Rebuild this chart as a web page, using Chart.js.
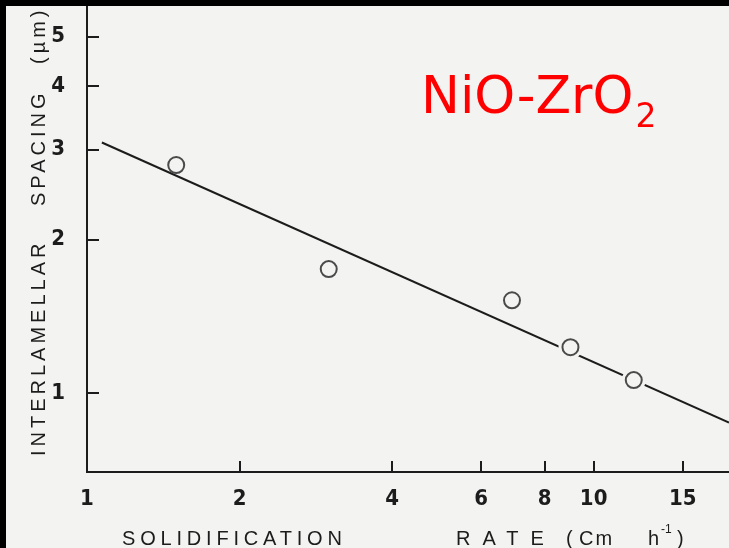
<!DOCTYPE html>
<html>
<head>
<meta charset="utf-8">
<script src="https://cdn.jsdelivr.net/npm/chart.js@4.4.1/dist/chart.umd.min.js"></script>
<style>
  html, body { margin: 0; padding: 0; background: #f3f3f1; }
  #wrap { position: relative; width: 729px; height: 548px; overflow: hidden; }
  canvas { display: block; }
</style>
</head>
<body>
<div id="wrap"><canvas id="spacingChart" width="729" height="548"></canvas></div>
<script>
// solidification rate (cm/h) vs interlamellar spacing (um)
const rates = [1.5, 3.0, 6.9, 9.0, 12.0];
const spacings = [2.8, 1.75, 1.52, 1.23, 1.06];

// fitted line, end points
const fitRates = [1.07, 18.5];
const fitSpacings = [3.10, 0.875];

const xTicks = [1, 2, 4, 6, 8, 10, 15];
const yTicks = [1, 2, 3, 4, 5];

const BG = "#f3f3f1";
const INK = "#1c1c1c";
const labelFont = "'Liberation Sans', Arial, sans-serif";
const tickFont = "'DejaVu Sans Condensed', 'Liberation Sans', Arial, sans-serif";

const toPoints = (xs, ys) => xs.map((x, i) => ({ x: x, y: ys[i] }));

// no label overhang padding, so the plot runs to the top and right edges
const noPadding = (scale) => {
  scale.paddingTop = 0;
  scale.paddingBottom = 0;
  scale.paddingLeft = 0;
  scale.paddingRight = 0;
};

// inward tick marks + spaced axis titles + black scan edge
const decorations = {
  id: "decorations",
  beforeDraw(chart) {
    const ctx = chart.ctx;
    ctx.save();
    ctx.fillStyle = BG;
    ctx.fillRect(0, 0, chart.width, chart.height);
    ctx.restore();
  },
  afterDraw(chart) {
    const ctx = chart.ctx;
    const { left, bottom } = chart.chartArea;
    const xs = chart.scales.x;
    const ys = chart.scales.y;
    ctx.save();
    ctx.strokeStyle = INK;
    ctx.lineWidth = 2;
    ctx.beginPath();
    xTicks.filter((v) => v > 1).forEach((v) => {
      const px = Math.round(xs.getPixelForValue(v));
      ctx.moveTo(px, bottom);
      ctx.lineTo(px, bottom - 11);
    });
    yTicks.forEach((v) => {
      const py = Math.round(ys.getPixelForValue(v));
      ctx.moveTo(left, py);
      ctx.lineTo(left + 12, py);
    });
    ctx.stroke();

    // axis titles
    ctx.fillStyle = INK;
    ctx.textBaseline = "alphabetic";
    ctx.textAlign = "left";
    ctx.font = "20px " + labelFont;
    ctx.letterSpacing = "4.8px";
    ctx.fillText("SOLIDIFICATION", 122, 545);
    ctx.letterSpacing = "12px";
    ctx.fillText("RATE", 456, 545);
    ctx.letterSpacing = "2px";
    ctx.fillText("(", 566, 545);
    ctx.fillText("Cm", 579, 545);
    ctx.fillText("h", 648, 545);
    ctx.fillText(")", 677, 545);
    ctx.font = "12px " + labelFont;
    ctx.letterSpacing = "0px";
    ctx.fillText("-1", 661, 533);

    ctx.translate(45, 0);
    ctx.rotate(-Math.PI / 2);
    ctx.font = "20px " + labelFont;
    ctx.letterSpacing = "4px";
    ctx.fillText("INTERLAMELLAR", -456, 0);
    ctx.fillText("SPACING", -206, 0);
    ctx.fillText("(µm)", -64, 0);
    ctx.restore();

    // red compound label
    ctx.save();
    ctx.fillStyle = "#ff0000";
    ctx.font = "52px 'DejaVu Sans', Verdana, sans-serif";
    ctx.textAlign = "left";
    ctx.textBaseline = "alphabetic";
    ctx.fillText("NiO-ZrO", 421, 113);
    const w = ctx.measureText("NiO-ZrO").width;
    ctx.font = "33px 'DejaVu Sans', Verdana, sans-serif";
    ctx.fillText("2", 421 + w + 2, 127);
    ctx.restore();

    // dark edge of the scanned page
    ctx.save();
    ctx.fillStyle = "#000";
    ctx.fillRect(0, 0, chart.width, 6);
    ctx.fillRect(0, 0, 6, chart.height);
    ctx.restore();
  }
};

new Chart(document.getElementById("spacingChart"), {
  type: "scatter",
  data: {
    datasets: [
      {
        type: "line",
        label: "fit",
        data: toPoints(fitRates, fitSpacings),
        borderColor: INK,
        borderWidth: 2,
        pointRadius: 0,
        order: 3
      },
      {
        // blank ring so the line breaks around the lower points
        label: "gap",
        data: toPoints(rates, spacings),
        pointRadius: [0, 0, 0, 12, 12],
        pointBackgroundColor: BG,
        pointBorderWidth: 0,
        order: 2
      },
      {
        label: "measured",
        data: toPoints(rates, spacings),
        pointRadius: 8,
        pointBackgroundColor: "rgba(0,0,0,0)",
        pointBorderColor: "#4a4a4a",
        pointBorderWidth: 2,
        order: 1
      }
    ]
  },
  plugins: [decorations],
  options: {
    responsive: false,
    devicePixelRatio: 1,
    animation: false,
    layout: { padding: 0, autoPadding: false },
    plugins: {
      legend: { display: false },
      tooltip: { enabled: false }
    },
    scales: {
      x: {
        type: "logarithmic",
        min: 1,
        max: 18.5,
        afterFit: (scale) => { scale.height = 76; noPadding(scale); },
        afterBuildTicks: (scale) => { scale.ticks = xTicks.map((v) => ({ value: v })); },
        grid: { display: false, drawTicks: false },
        border: { display: true, color: INK, width: 2 },
        ticks: {
          padding: 14,
          color: INK,
          maxRotation: 0,
          autoSkip: false,
          font: { family: tickFont, size: 22, weight: "bold" },
          callback: (v) => String(v)
        }
      },
      y: {
        type: "logarithmic",
        min: 0.70,
        max: 5.9,
        afterFit: (scale) => { scale.width = 87; noPadding(scale); },
        afterBuildTicks: (scale) => { scale.ticks = yTicks.map((v) => ({ value: v })); },
        grid: { display: false, drawTicks: false },
        border: { display: true, color: INK, width: 2 },
        ticks: {
          padding: 22,
          color: INK,
          autoSkip: false,
          font: { family: tickFont, size: 22, weight: "bold" },
          callback: (v) => String(v)
        }
      }
    }
  }
});
</script>
</body>
</html>
